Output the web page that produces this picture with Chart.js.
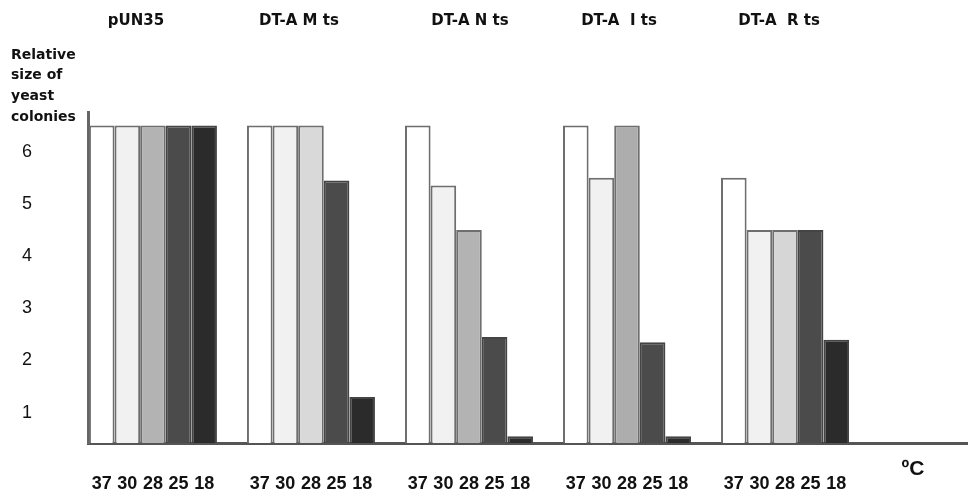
<!DOCTYPE html>
<html>
<head>
<meta charset="utf-8">
<script src="https://cdn.jsdelivr.net/npm/chart.js@4.4.1/dist/chart.umd.min.js"></script>
<style>
  body { margin: 0; background: #fff; }
  canvas { display: block; }
</style>
</head>
<body>
<canvas id="chart" width="968" height="495"></canvas>
<script>
const strains = ['pUN35', 'DT-A M ts', 'DT-A N ts', 'DT-A  I ts', 'DT-A  R ts'];
const temps = ['37', '30', '28', '25', '18'];
const size37 = [6.5, 6.5, 6.5, 6.5, 5.5];
const size30 = [6.5, 6.5, 5.35, 5.5, 4.5];
const size28 = [6.5, 6.5, 4.5, 6.5, 4.5];
const size25 = [6.5, 5.45, 2.45, 2.35, 4.5];
const size18 = [6.5, 1.3, 0.55, 0.55, 2.4];
const yTicks = [1, 2, 3, 4, 5, 6];
const yTitle = ['Relative', 'size of', 'yeast', 'colonies'];
const unitLabel = 'ºC';

const series = [size37, size30, size28, size25, size18];
const fills = [
  '#ffffff',
  '#f1f1f1',
  ['#b3b3b3', '#d9d9d9', '#b3b3b3', '#adadad', '#d6d6d6'],
  '#4b4b4b',
  '#2b2b2b'
];
// titles sit a little left of their group in the scan
const titleShift = [-17, -12, 1, -8, -6];

const figureText = {
  id: 'figureText',
  afterDraw(chart) {
    const ctx = chart.ctx;
    const xs = chart.scales.x;
    ctx.save();
    ctx.fillStyle = '#111';
    ctx.textBaseline = 'middle';

    ctx.textAlign = 'center';
    ctx.font = 'bold 18px "Liberation Sans"';
    chart.data.datasets.forEach((ds, j) => {
      chart.getDatasetMeta(j).data.forEach(bar => ctx.fillText(temps[j], bar.x, 484));
    });

    ctx.font = 'bold 15px "DejaVu Sans"';
    strains.forEach((s, i) => ctx.fillText(s, xs.getPixelForValue(i) + titleShift[i], 21));

    ctx.font = 'bold 21px "Liberation Sans"';
    ctx.fillText(unitLabel, 913, 469);

    ctx.textAlign = 'left';
    ctx.font = 'bold 14px "DejaVu Sans"';
    yTitle.forEach((t, k) => ctx.fillText(t, 11, 55 + k * 20.7));
    ctx.restore();
  }
};

new Chart(document.getElementById('chart'), {
  type: 'bar',
  data: {
    datasets: series.map((vals, j) => ({
      label: temps[j],
      data: vals.map((v, i) => ({ x: i, y: v })),
      backgroundColor: fills[j],
      borderColor: j > 2 ? '#444' : '#6e6e6e',
      borderWidth: 2,
      categoryPercentage: 0.81,
      barPercentage: 1
    }))
  },
  options: {
    responsive: false,
    animation: false,
    layout: { padding: { top: 112, left: 0, right: 0, bottom: 0 } },
    plugins: { legend: { display: false }, tooltip: { enabled: false } },
    scales: {
      x: {
        type: 'linear',
        min: -0.411,
        max: 5.158,
        offset: false,
        grid: { display: false },
        ticks: { display: false },
        border: { display: true, color: '#555', width: 3 },
        afterBuildTicks: s => { s.ticks = strains.map((_, i) => ({ value: i })); },
        afterFit: s => { s.height = 52; s.paddingLeft = 0; s.paddingRight = 0; }
      },
      y: {
        min: 0.42,
        max: 6.76,
        grid: { display: false },
        border: { display: true, color: '#666', width: 3 },
        ticks: { padding: 48, color: '#111', font: { family: 'Liberation Sans', size: 18 } },
        afterBuildTicks: s => { s.ticks = yTicks.map(v => ({ value: v })); },
        afterFit: s => { s.width = 88; s.paddingTop = 0; s.paddingBottom = 0; }
      }
    }
  },
  plugins: [figureText]
});
</script>
</body>
</html>
